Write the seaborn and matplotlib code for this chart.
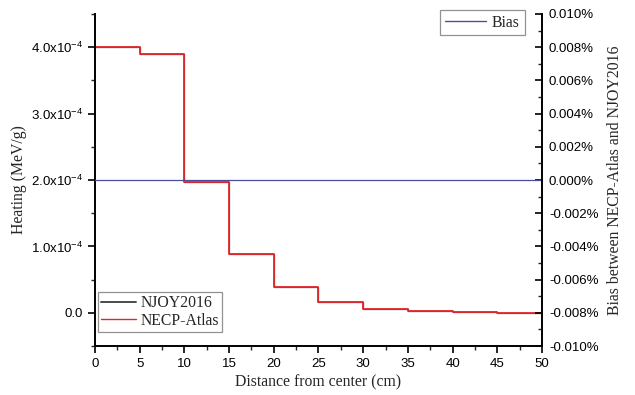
import matplotlib
matplotlib.use("Agg")
import matplotlib.pyplot as plt
from matplotlib.ticker import MultipleLocator, FuncFormatter
from matplotlib.lines import Line2D
import seaborn as sns
import pandas as pd

# Radial heating profile (step edges in cm, heating in MeV/g)
distance = [0, 5, 10, 15, 20, 25, 30, 35, 40, 45, 50]
heating_njoy = [4.00e-4, 3.90e-4, 1.97e-4, 0.89e-4, 0.39e-4, 0.17e-4,
                0.06e-4, 0.02e-4, 0.005e-4, 0.0, 0.0]
heating_necp = [4.00e-4, 3.90e-4, 1.97e-4, 0.89e-4, 0.39e-4, 0.17e-4,
                0.06e-4, 0.02e-4, 0.005e-4, 0.0, 0.0]
bias_pct = [0.0, 0.0, 0.0, 0.0, 0.0, 0.0, 0.0, 0.0, 0.0, 0.0, 0.0]

sns.set_style("ticks")
plt.rcParams["font.family"] = ["Liberation Sans", "DejaVu Sans"]

serif = ["Liberation Serif", "DejaVu Serif"]

df = pd.DataFrame({"x": distance, "njoy": heating_njoy,
                   "necp": heating_necp, "bias": bias_pct})

fig = plt.figure(figsize=(6.35, 3.95), dpi=100)
ax = fig.add_axes([0.1496, 0.124, 0.7039, 0.8406])
ax2 = ax.twinx()

c_njoy = "#4a4a4a"
c_necp = "#e3262a"
c_bias = "#4d4d9e"

sns.lineplot(data=df, x="x", y="njoy", ax=ax, color=c_njoy, lw=0.9,
             drawstyle="steps-post", legend=False)
sns.lineplot(data=df, x="x", y="necp", ax=ax, color=c_necp, lw=1.3,
             drawstyle="steps-post", legend=False)
sns.lineplot(data=df, x="x", y="bias", ax=ax2, color=c_bias, lw=0.9,
             legend=False)

ax.set_xlim(0, 50)
ax.set_ylim(-0.5e-4, 4.5e-4)
ax2.set_ylim(-0.010, 0.010)

ax.xaxis.set_major_locator(MultipleLocator(5))
ax.xaxis.set_minor_locator(MultipleLocator(2.5))
ax.yaxis.set_major_locator(MultipleLocator(1e-4))
ax.yaxis.set_minor_locator(MultipleLocator(0.5e-4))
ax2.yaxis.set_major_locator(MultipleLocator(0.002))
ax2.yaxis.set_minor_locator(MultipleLocator(0.001))


def heat_fmt(v, _):
    m = round(v / 1e-4, 1)
    if abs(m) < 1e-9:
        return "0.0"
    return r"$\mathregular{%.1fx10^{-4}}$" % m


ax.yaxis.set_major_formatter(FuncFormatter(heat_fmt))
ax2.yaxis.set_major_formatter(FuncFormatter(lambda v, _: "%.3f%%" % (v + 0.0)))

ax.tick_params(which="major", direction="out", length=5, width=1.2,
               labelsize=9.5, colors="black")
ax.tick_params(which="minor", direction="out", length=3, width=1.0)
ax2.tick_params(which="major", direction="in", length=5, width=1.2,
                labelsize=9.5, colors="black", pad=5)
ax2.tick_params(which="minor", direction="in", length=3, width=1.0)

ax.spines["top"].set_visible(False)
ax.spines["right"].set_visible(False)
ax2.spines["top"].set_visible(False)
ax2.spines["left"].set_visible(False)
ax2.spines["bottom"].set_visible(False)
for s in (ax.spines["left"], ax.spines["bottom"], ax2.spines["right"]):
    s.set_linewidth(1.4)
    s.set_color("black")

ax.set_xlabel("Distance from center (cm)", family=serif, fontsize=11.3,
              labelpad=3)
ax.set_ylabel("Heating (MeV/g)", family=serif, fontsize=11.3, labelpad=3)
ax2.set_ylabel("Bias between NECP-Atlas and NJOY2016", family=serif,
               fontsize=11.3, labelpad=6)

h_left = [Line2D([], [], color=c_njoy, lw=1.4),
          Line2D([], [], color=c_necp, lw=1.0)]
leg1 = ax.legend(h_left, ["NJOY2016", "NECP-Atlas"], loc="lower left",
                 bbox_to_anchor=(0.007, 0.043), frameon=True, fancybox=False,
                 prop={"family": serif, "size": 11.3}, handlelength=2.2,
                 handletextpad=0.3, borderpad=0.2, labelspacing=0.1,
                 borderaxespad=0.0)
leg1.get_frame().set_edgecolor("#777777")
leg1.get_frame().set_linewidth(0.9)

leg2 = ax2.legend([Line2D([], [], color=c_bias, lw=1.0)], ["Bias"],
                  loc="upper right", bbox_to_anchor=(0.961, 1.012),
                  frameon=True, fancybox=False,
                  prop={"family": serif, "size": 11.3}, handlelength=2.6,
                  handletextpad=0.4, borderpad=0.3, borderaxespad=0.0)
leg2.get_frame().set_edgecolor("#777777")
leg2.get_frame().set_linewidth(0.9)

fig.savefig("out.png", dpi=100)
